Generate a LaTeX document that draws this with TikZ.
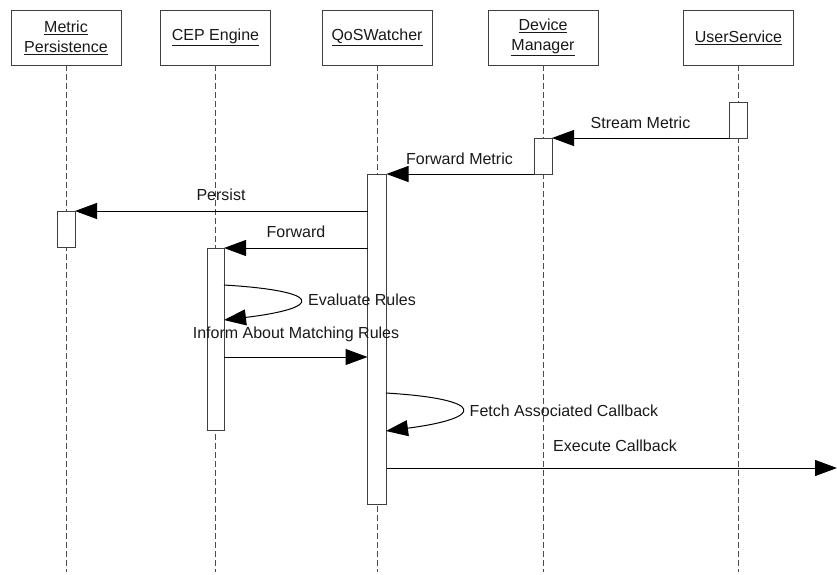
\documentclass[tikz,border=0pt]{standalone}
\usepackage{fontspec}
\setmainfont{Liberation Sans}
\usetikzlibrary{arrows.meta}
\begin{document}
\begin{tikzpicture}[x=1pt,y=-1pt,
  every node/.style={font=\fontsize{16}{20}\selectfont, text=black!90},
  headbox/.style={draw=black!75, line width=1pt, fill=white, minimum width=110pt,
    minimum height=55pt, inner sep=0pt, outer sep=0pt, align=center},
  actbox/.style={draw=black!75, line width=1pt, fill=white, minimum width=18pt,
    inner sep=0pt, outer sep=0pt},
  lifeline/.style={draw=black!70, line width=1pt, dash pattern=on 6pt off 3pt},
  msg/.style={draw=black, line width=1pt, -{Triangle[length=22pt,width=16pt]}},
  msglabel/.style={inner sep=0pt, anchor=center}]
\useasboundingbox (0,0) rectangle (837,574);

% participants
\node[headbox] (hm) at (66,37.5) {\underline{Metric}\\\underline{Persistence}};
\node[headbox] (hc) at (215.5,37.5) {\underline{CEP Engine}};
\node[headbox] (hq) at (377,37.5) {\underline{QoSWatcher}};
\node[headbox] (hd) at (543,37.5) {\underline{Device}\\\underline{Manager}};
\node[headbox] (hu) at (738.5,37.5) {\underline{UserService}};

% lifelines
\foreach \p/\x in {m/66, c/215.5, q/377, d/543, u/738.5} {
  \coordinate (end\p) at (\x,572);
  \draw[lifeline] (h\p.south) -- (end\p);
}

% activations
\node[actbox, minimum height=36pt] (au) at (738.5,120) {};
\node[actbox, minimum height=36pt] (ad) at (543,156) {};
\node[actbox, minimum height=330pt, minimum width=19pt] (aq) at (377,339) {};
\node[actbox, minimum height=36pt] (am) at (66,229) {};
\node[actbox, minimum height=182pt, minimum width=17pt] (ac) at (215.5,339) {};

% messages
\draw[msg] (au.south west) -- (ad.north east);
\node[msglabel] (l1) at (640.5,123) {Stream Metric};

\draw[msg] (ad.south west) -- (aq.north east);
\node[msglabel] (l2) at (459.5,159) {Forward Metric};

\draw[msg] (aq.west |- am.north) -- (am.north east);
\node[msglabel] (l3) at (221,195) {Persist};

\draw[msg] (aq.west |- ac.north) -- (ac.north east);
\node[msglabel] (l4) at (296,232) {Forward};

% self call on the CEP engine
\coordinate (e1s) at (224,285);
\coordinate (e1e) at (224,320);
\draw[msg] (e1s) .. controls (324,291) and (324,308) .. (e1e);
\node[msglabel] (l5) at (362,300) {Evaluate Rules};

\coordinate (inf) at (0,357);
\draw[msg] (ac.east |- inf) -- (aq.west |- inf);
\node[msglabel] (l6) at (296,334) {Inform About Matching Rules};

% self call on the watcher
\coordinate (f1s) at (386,393);
\coordinate (f1e) at (386,431);
\draw[msg] (f1s) .. controls (486,399) and (486,418) .. (f1e);
\node[msglabel] (l7) at (564,411) {Fetch Associated Callback};

\coordinate (exe) at (837,468);
\draw[msg] (aq.east |- exe) -- (exe);
\node[msglabel] (l8) at (615,446) {Execute Callback};
\end{tikzpicture}
\end{document}
